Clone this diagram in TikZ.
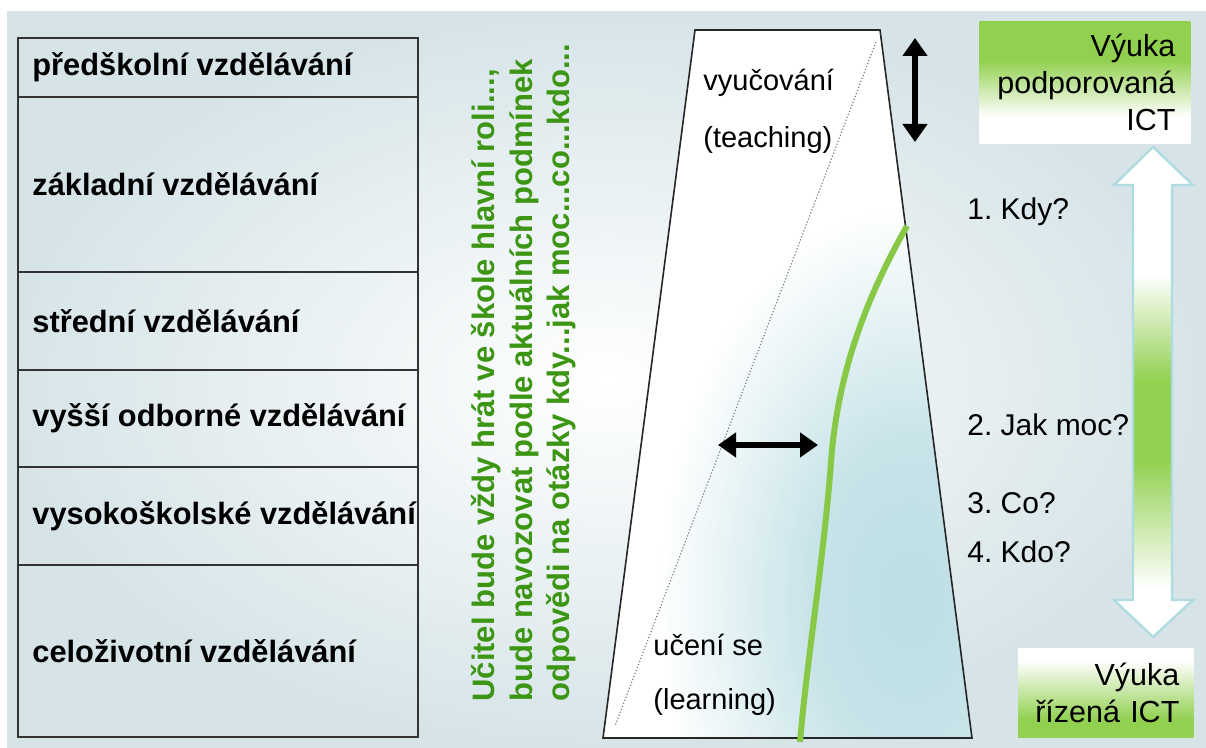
\documentclass[tikz,border=0pt]{standalone}
\usepackage{fontspec}
\setmainfont{Liberation Sans}
\usetikzlibrary{arrows.meta, positioning}

\definecolor{ictgreen}{RGB}{146,208,80}
\definecolor{curvegreen}{RGB}{135,200,70}
\definecolor{notegreen}{RGB}{60,150,20}
\definecolor{bgblue}{RGB}{214,228,232}
\definecolor{trapblue}{RGB}{188,222,228}
\definecolor{arrowrim}{RGB}{175,220,225}

\pgfdeclareverticalshading{ictarrow}{100bp}{color(0bp)=(white); color(30bp)=(white);
  color(43bp)=(ictgreen); color(51bp)=(ictgreen); color(62bp)=(white); color(100bp)=(white)}
\pgfdeclareverticalshading{icttop}{100bp}{color(0bp)=(white); color(36bp)=(white);
  color(59bp)=(ictgreen); color(100bp)=(ictgreen)}
\pgfdeclareverticalshading{ictbottom}{100bp}{color(0bp)=(ictgreen); color(35bp)=(ictgreen);
  color(68bp)=(white); color(100bp)=(white)}
\pgfdeclareradialshading{trapglow}{\pgfpoint{0bp}{0bp}}{color(0bp)=(trapblue);
  color(8bp)=(trapblue!85!white); color(21bp)=(white); color(25bp)=(white); color(50bp)=(white)}

\begin{document}
\frenchspacing
\begin{tikzpicture}[x=0.5pt, y=-0.5pt,
			every node/.style={font=\fontsize{15}{18.5}\selectfont},
			stage/.style={draw=black!80, line width=0.9pt, outer sep=0pt,
				inner sep=0pt, minimum width=200pt},
			stagetext/.style={font=\fontsize{15.4}{18}\selectfont\bfseries,
				anchor=west, inner sep=0pt},
			note/.style={font=\fontsize{15.5}{18.75}\selectfont\bfseries,
				text=notegreen, align=left, inner sep=0pt},
			phase/.style={font=\fontsize{14.5}{18}\selectfont, anchor=west, inner sep=0pt},
			question/.style={anchor=west, inner sep=0pt},
			ictbox/.style={shade, align=right, anchor=north west, inner ysep=0pt,
				font=\fontsize{15.25}{18.5}\selectfont},
			dblarr/.style={{Triangle[length=9pt,width=12pt]}-{Triangle[length=9pt,width=12pt]},
				line width=3pt},
			]
			\useasboundingbox (0,0) rectangle (1206,748);
			% background
			\fill[inner color=white, outer color=bgblue] (7,12) rectangle (1206,748);

			% =============================================================
			%  LEFT: LEVELS OF EDUCATION
			% =============================================================
			\node[stage, minimum height=29.5pt, anchor=north west] (presch) at (18,38) {};
			\node[stage, minimum height=87.5pt, below=0pt of presch] (basic) {};
			\node[stage, minimum height=49pt, below=0pt of basic] (second) {};
			\node[stage, minimum height=48.5pt, below=0pt of second] (college) {};
			\node[stage, minimum height=49pt, below=0pt of college] (univ) {};
			\node[stage, minimum height=86pt, below=0pt of univ] (lifelong) {};

			\node[stagetext] (presch-t) at ([xshift=7pt]presch.west) {předškolní vzdělávání};
			\node[stagetext] (basic-t) at ([xshift=7pt]basic.west) {základní vzdělávání};
			\node[stagetext] (second-t) at ([xshift=7pt]second.west) {střední vzdělávání};
			\node[stagetext] (college-t) at ([xshift=7pt]college.west) {vyšší odborné vzdělávání};
			\node[stagetext] (univ-t) at ([xshift=7pt]univ.west) {vysokoškolské vzdělávání};
			\node[stagetext] (lifelong-t) at ([xshift=7pt]lifelong.west) {celoživotní vzdělávání};

			% --- teacher's role (vertical) ---
			\node[note, rotate=90, anchor=north west] (teacher) at (471,702)
			{Učitel bude vždy hrát ve škole hlavní roli...,\\
				bude navozovat podle aktuálních podmínek\\
				odpovědi na otázky kdy...jak moc...co...kdo...};

			% =============================================================
			%  MIDDLE: TEACHING / LEARNING TRAPEZOID
			% =============================================================
			\coordinate (tl) at (695,30);
			\coordinate (tr) at (880,30);
			\coordinate (br) at (972,738);
			\coordinate (bl) at (603,738);
			\fill[white] (tl) -- (tr) -- (br) -- (bl) -- cycle;
			\begin{scope}
				\clip (tl) -- (tr) -- (br) -- (bl) -- cycle;
				\shade[shading=trapglow] (910,600) ellipse (300 and 470);
			\end{scope}
			\draw[black!85, line width=0.8pt] (tl) -- (tr) -- (br) -- (bl) -- cycle;

			% --- dividing diagonal ---
			\coordinate (dtop) at (876,42);
			\coordinate (dbot) at (615,726);
			\draw[gray, densely dotted, line width=0.6pt] (dtop) -- (dbot);

			\node[phase] (teach) at (703,83) {vyučování};
			\node[phase] (teach-en) at (703,140) {(teaching)};
			\node[phase] (learn) at (653,645) {učení se};
			\node[phase] (learn-en) at (653,702) {(learning)};

			% --- green boundary curve ---
			\coordinate (ctop) at (907,226);
			\coordinate (cmid) at (832,450);
			\coordinate (cbot) at (800,742);
			\draw[curvegreen, line width=3pt] (ctop) .. controls (865,300) and (840,370) .. (cmid)
			.. controls (824,560) and (808,650) .. (cbot);

			% ---- ARROWS ----
			\coordinate (hl) at (718,445);
			\coordinate (hr) at (818,445);
			\draw[dblarr] (hl) -- (hr);
			\coordinate (vt) at (915,38);
			\coordinate (vb) at (915,142);
			\draw[dblarr] (vt) -- (vb);

			% =============================================================
			%  RIGHT: ICT SCALE
			% =============================================================
			\node[ictbox, shading=icttop, minimum width=105.5pt, minimum height=61pt,
			text width=90.5pt, inner xsep=7.5pt] (supported) at (979,21)
			{Výuka\\podporovaná\\ICT};
			\node[ictbox, shading=ictbottom, minimum width=87.5pt, minimum height=44.5pt,
			text width=73.5pt, inner xsep=7pt] (driven) at (1018,648)
			{Výuka\\řízená ICT};

			% --- hollow double arrow ---
			\draw[shade, shading=ictarrow, draw=arrowrim, line width=1.2pt, line join=miter]
			(1153,147) -- (1193,185) -- (1172,185) -- (1172,600) -- (1193,600)
			-- (1153,637) -- (1114,600) -- (1133,600) -- (1133,185) -- (1114,185) -- cycle;

			% --- questions ---
			\node[question] (when) at (967,212) {1. Kdy?};
			\node[question] (howmuch) at (967,425) {2. Jak moc?};
			\node[question] (what) at (967,503) {3. Co?};
			\node[question] (who) at (967,552) {4. Kdo?};
		\end{tikzpicture}
\end{document}
